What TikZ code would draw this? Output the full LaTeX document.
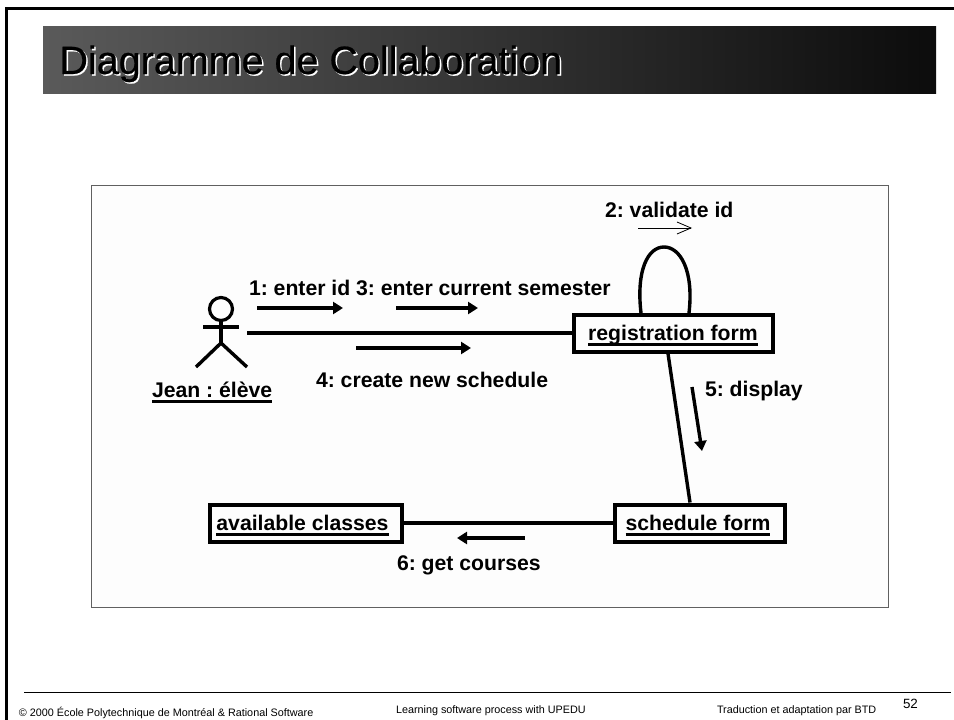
\documentclass[tikz,border=0pt]{standalone}
\usepackage{fontspec}
\setmainfont{Liberation Sans}
\newfontfamily\titlefont[FakeBold=0.5]{Liberation Sans}
\usetikzlibrary{arrows.meta}
\frenchspacing
\newcommand\ulbox[1]{\setbox0\hbox{#1}\rlap{\rule[-5.5pt]{\wd0}{2.6pt}}\box0 }
\definecolor{panelfill}{HTML}{FDFDFD}
\definecolor{panelline}{HTML}{606060}
\tikzset{
  lbl/.style={anchor=base west,inner sep=0pt,outer sep=0pt,font=\fontsize{21.2}{24}\selectfont\bfseries},
  objbox/.style={draw=black,line width=4pt,fill=panelfill,inner sep=0pt,font=\fontsize{21.2}{24}\selectfont\bfseries,minimum height=37pt,text height=17.5pt,text depth=3pt},
  assoc/.style={line width=3.4pt,draw=black},
  msg/.style={line width=3.4pt,-{Triangle[length=10pt,width=12pt]}},
  foot/.style={anchor=base west,inner sep=0pt,outer sep=0pt,font=\fontsize{10.8}{12}\selectfont},
  titletext/.style={anchor=base west,inner sep=0pt,outer sep=0pt,font=\fontsize{39.5}{44}\titlefont}
}
\begin{document}
\begin{tikzpicture}[x=1pt,y=-1pt]
\useasboundingbox (0,0) rectangle (954,720);
\fill[white] (0,0) rectangle (954,720);
% slide frame
\draw[line width=3pt,black] (6.5,720) -- (6.5,8.7) -- (954,8.7);
% title band
\shade[left color={rgb,255:red,90;green,90;blue,90},middle color={rgb,255:red,72;green,72;blue,72},right color={rgb,255:red,12;green,12;blue,12},shading angle=90,draw=none] (43,26) rectangle (936,93);
\node[titletext,text=white] (titleshadow) at (61,75.5) {Diagramme de Collaboration};
\node[titletext,text=black] (title) at (59.5,74) {Diagramme de Collaboration};
% panel
\draw[panelline,line width=0.8pt,fill=panelfill] (91,185) rectangle (888,607);
% actor
\coordinate (headc) at (221,309);
\node[circle,draw=black,line width=3.2pt,minimum size=23pt,inner sep=0pt] (head) at (headc) {};
\coordinate (hip) at (221,343);
\coordinate (armL) at (203,327);
\coordinate (armR) at (239,327);
\coordinate (legL) at (196,367);
\coordinate (legR) at (247,367);
\coordinate (actorR) at (247,333);
\draw[assoc] (head.south) -- (hip);
\draw[assoc] (armL) -- (armR);
\draw[assoc] (legL) -- (hip) -- (legR);
\node[lbl] (jean) at (152,397) {\ulbox{Jean : élève}};
% objects
\node[objbox,minimum width=199pt] (reg) at (673,333) {\ulbox{registration form}};
\node[objbox,minimum width=192pt] (avail) at (306,523) {\ulbox{available classes}\kern7pt};
\node[objbox,minimum width=170pt] (sched) at (699.5,523) {\ulbox{schedule form}\kern3pt};
% associations
\draw[assoc] (actorR) -- (reg.west);
\draw[assoc] (reg.south west -| 668,353) -- (sched.north west -| 690,503);
\draw[assoc] (avail.east) -- (sched.west);
\draw[assoc] (641,313) .. controls (636,270) and (648,247) .. (664,247) .. controls (680,247) and (694,270) .. (689,313);
% message arrows
\coordinate (a1s) at (257,308); \coordinate (a1e) at (343,308);
\coordinate (a3s) at (396,308); \coordinate (a3e) at (478,308);
\coordinate (a4s) at (356,348); \coordinate (a4e) at (471,348);
\coordinate (a5s) at (692,387); \coordinate (a5e) at (702,451);
\coordinate (a6s) at (525,538); \coordinate (a6e) at (457,538);
\coordinate (a2s) at (638,228); \coordinate (a2e) at (692,228);
\draw[msg] (a1s) -- (a1e);
\draw[msg] (a3s) -- (a3e);
\draw[msg] (a4s) -- (a4e);
\draw[msg] (a5s) -- (a5e);
\draw[msg] (a6s) -- (a6e);
\draw[line width=0.8pt,-{Straight Barb[length=14pt,width=12pt]}] (a2s) -- (a2e);
% labels
\node[lbl] (m13) at (249,295.5) {1: enter id 3: enter current semester};
\node[lbl] (m2) at (605,217) {2: validate id};
\node[lbl] (m4) at (316,387) {4: create new schedule};
\node[lbl] (m5) at (705,396) {5: display};
\node[lbl] (m6) at (397,570) {6: get courses};
% footer
\coordinate (fl) at (24,692); \coordinate (fr) at (951,692);
\draw[line width=1pt] (fl) -- (fr);
\node[foot] (f1) at (19,716) {© 2000 École Polytechnique de Montréal  \& Rational Software};
\node[foot] (f2) at (396,713) {Learning software process with UPEDU};
\node[foot] (f3) at (717,713) {Traduction et adaptation par BTD};
\node[foot,font=\fontsize{13.4}{15}\selectfont] (f4) at (903,708) {52};
\end{tikzpicture}
\end{document}
